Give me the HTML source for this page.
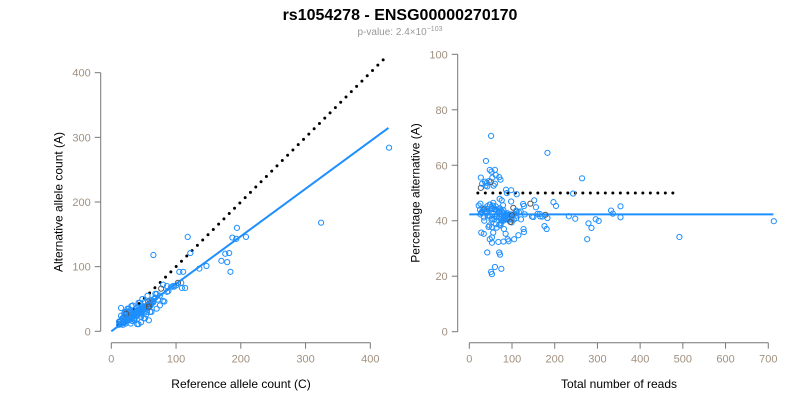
<!DOCTYPE html>
<html><head><meta charset="utf-8"><style>
body{margin:0;background:#fff;width:800px;height:400px;overflow:hidden}
svg text{font-family:"Liberation Sans",sans-serif}
</style></head><body>
<svg id="c" width="800" height="400">
<text x="400" y="20" text-anchor="middle" font-size="16" font-weight="bold">rs1054278 - ENSG00000270170</text>
<text x="400" y="35" text-anchor="middle" font-size="10" fill="#999">p-value: 2.4×10<tspan dy="-4" font-size="7">−103</tspan></text>
<g id="left"></g>
<g id="right"></g>
</svg>
<script>
const refCounts=[65,118,122,105,111,103,108,109,114,136,147,170,176,179,182,184,187,194,193,208,324,429,80,86,77,86,80,70,92,97,58,
12,14,15,18,20,22,24,25,26,28,30,31,33,35,36,38,40,42,44,45,47,48,50,52,54,55,57,60,62,64,
16,19,21,23,27,29,32,34,37,39,41,43,46,49,51,53,56,59,61,63,
13,17,20,25,30,35,40,45,50,55,60,18,22,28,33,38,43,48,53,58,
15,24,36,42,27,31,46,52,62,66,68,72,75,82,88,95,100,14,57,44,
20,15,30,40,38,25,22,45,50,35,60,55,28,26,33,70,65,58,48,42,36,30,24,20,18,16,45,52,62,75,68,56,44,40,34,27,23,19,14,32,46,54,40,21,29,37,43,51,12,17];
const altCounts=[118,146,121,92,92,75,75,67,67,97,101,109,120,107,121,92,145,160,143,146,168,284,72,70,66,61,47,58,68,69,17,
10,12,11,14,16,17,19,18,22,20,24,21,26,25,28,27,30,31,33,29,35,32,36,38,37,40,39,44,42,46,
12,15,14,19,21,23,22,27,26,30,29,33,31,34,38,36,41,40,45,48,
14,13,22,18,26,24,32,28,34,30,39,10,12,17,20,24,27,33,36,42,
36,30,17,11,35,39,14,20,30,50,58,49,55,46,62,70,71,11,46,44,
28,24,12,11,30,35,30,28,20,18,30,40,32,22,40,35,45,38,50,44,20,25,18,14,20,12,35,46,48,40,52,55,30,36,28,30,27,22,16,16,22,26,24,25,18,34,36,30,15,20];
const refTicks=[0,100,200,300,400], altTicks=[0,100,200,300,400];
const totTicks=[0,100,200,300,400,500,600,700], pctTicks=[0,20,40,60,80,100];
const fitSlope=0.735, meanPct=42.3, nullPct=50;

const NS="http://www.w3.org/2000/svg";
function el(p,t,a){const e=document.createElementNS(NS,t);for(const k in a)e.setAttribute(k,a[k]);p.appendChild(e);return e;}
const lx=v=>111.3+v*0.6475, ly=v=>331.3-v*0.6465;
const rx=v=>469.3+v*0.4271, ry=v=>331.7-v*2.774;
const L=document.getElementById('left'),R=document.getElementById('right');
function axes(g,xf,yf,xt,yt,axY,axX,xl,yl,xlabelX,ylabelY){
  let a=el(g,'line',{x1:xf(xt[0]),x2:xf(xt[xt.length-1]),y1:axY,y2:axY,stroke:'#777'});
  
  
  xt.forEach(t=>{el(g,'line',{x1:xf(t),x2:xf(t),y1:axY,y2:axY+6,stroke:'#777'});
    const s=el(g,'text',{x:xf(t),y:axY+20,'text-anchor':'middle','font-size':11,fill:'#a09080'});s.textContent=t;
    
    });
  let b=el(g,'line',{x1:axX,x2:axX,y1:yf(yt[0]),y2:yf(yt[yt.length-1]),stroke:'#777'});
  
  
  yt.forEach(t=>{el(g,'line',{x1:axX-6,x2:axX,y1:yf(t),y2:yf(t),stroke:'#777'});
    const s=el(g,'text',{x:axX-10,y:yf(t)+4,'text-anchor':'end','font-size':11,fill:'#a09080'});s.textContent=t;
    
    });
  const X=el(g,'text',{x:xlabelX,y:388,'text-anchor':'middle','font-size':12});X.textContent=xl;
  
  
  const Y=el(g,'text',{x:0,y:0,'text-anchor':'middle','font-size':12,transform:`translate(${axX-38},${ylabelY}) rotate(-90)`});Y.textContent=yl;
  
  
}
axes(L,lx,ly,refTicks,altTicks,342.7,100.7,'Reference allele count (C)','Alternative allele count (A)',241,202);
axes(R,rx,ry,totTicks,pctTicks,342.7,457.7,'Total number of reads','Percentage alternative (A)',619,193);
let d=el(L,'line',{x1:lx(10),y1:ly(10),x2:lx(425),y2:ly(425),stroke:'#000','stroke-width':3,'stroke-linecap':'round','stroke-dasharray':'0 7.5'});


let f=el(L,'line',{x1:lx(0),y1:ly(0),x2:lx(428),y2:ly(428*fitSlope),stroke:'#1e8fff','stroke-width':2});


let d2=el(R,'line',{x1:rx(20),y1:ry(nullPct),x2:rx(485),y2:ry(nullPct),stroke:'#000','stroke-width':3,'stroke-linecap':'round','stroke-dasharray':'0 7.5'});


let m=el(R,'line',{x1:rx(0),y1:ry(meanPct),x2:rx(712),y2:ry(meanPct),stroke:'#1e8fff','stroke-width':2});


refCounts.forEach((r,i)=>{const a=altCounts[i];const col=(i%19==5)?'#555':'#1e8fff';
  const p=el(L,'circle',{cx:lx(r),cy:ly(a),r:2.6,fill:'none',stroke:col,'stroke-width':1});
  
  
  const t=r+a;
  const q=el(R,'circle',{cx:rx(t),cy:ry(a/t*100),r:2.6,fill:'none',stroke:col,'stroke-width':1});
  
  
});
</script>
</body></html>
